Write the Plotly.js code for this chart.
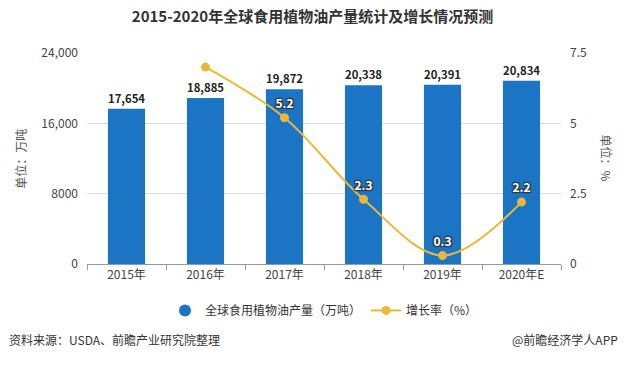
<!DOCTYPE html>
<html><head><meta charset="utf-8">
<script src="https://cdn.plot.ly/plotly-3.0.1.min.js"></script>
<style>body{margin:0;background:#fff}#c{width:625px;height:365px}</style>
</head><body><div id="c"></div>
<script>
const years = ['2015年','2016年','2017年','2018年','2019年','2020年E'];
const production = [17654, 18885, 19872, 20338, 20391, 20834];
const growth = [null, 7.0, 5.2, 2.3, 0.3, 2.2];
const growthLabels = ['', '', '5.2', '2.3', '0.3', '2.2'];
const prodLabels = ['17,654','18,885','19,872','20,338','20,391','20,834'];
const leftTicks = [0, 8000, 16000, 24000];
const leftTickText = ['0','8000','16,000','24,000'];
const rightTicks = [0, 2.5, 5, 7.5];
const rightTickText = ['0','2.5','5','7.5'];

const font = 'Microsoft YaHei, "Noto Sans CJK SC", sans-serif';
const barColor = '#1B75C4';
const lineColor = '#E9B83A';
const traces = [
  {type:'bar', x:years, y:production, name:'全球食用植物油产量（万吨）', showlegend:false,
   marker:{color:barColor}, width:0.47,
   text:prodLabels, textposition:'outside', cliponaxis:false,
   textfont:{family:font, size:12, color:'#222', weight:'bold'}},
  {type:'scatter', mode:'markers', x:[years[0]], y:[null], name:'全球食用植物油产量（万吨）',
   marker:{color:barColor, size:12, symbol:'circle'}, hoverinfo:'skip'},
  {type:'scatter', mode:'lines+markers+text', x:years, y:growth, yaxis:'y2',
   name:'增长率（%）', connectgaps:false,
   line:{color:lineColor, width:2, shape:'spline', smoothing:1},
   marker:{color:lineColor, size:9},
   text:growthLabels, textposition:'top center', cliponaxis:false,
   textfont:{family:font, size:12, color:'#fff', weight:'bold', shadow:'1px 1px 1px #333, -1px -1px 1px #333, 1px -1px 1px #333, -1px 1px 1px #333'}}
];
const layout = {
  width:625, height:365, margin:{l:87, r:64, t:53, b:101},
  paper_bgcolor:'#fff', plot_bgcolor:'#fff',
  font:{family:font, color:'#444'},
  title:{text:'<b>2015-2020年全球食用植物油产量统计及增长情况预测</b>', x:0.5, xanchor:'center', y:0.955, yanchor:'middle', font:{size:15, color:'#333', family:font}},
  bargap:0.5,
  xaxis:{tickfont:{size:12, color:'#444'}, ticks:'outside', ticklen:5, tickcolor:'#999', showline:true, linecolor:'#999', tickson:'boundaries', showgrid:false},
  yaxis:{range:[0,24000], tickvals:leftTicks, ticktext:leftTickText, tickfont:{size:12, color:'#444'}, gridcolor:'#dcdcdc', zeroline:false, ticks:'', ticklabelstandoff:8},
  yaxis2:{range:[0,7.5], overlaying:'y', side:'right', tickvals:rightTicks, ticktext:rightTickText, tickfont:{size:12, color:'#444'}, showgrid:false, zeroline:false, ticklabelstandoff:8},
  legend:{orientation:'h', x:0.5, xanchor:'center', y:-0.22, yanchor:'middle', font:{size:12, color:'#333'}, itemwidth:30},
  annotations:[
    {text:'单位：万吨', xref:'paper', yref:'paper', x:-0.141, xanchor:'center', y:0.5, showarrow:false, textangle:-90, font:{size:12, color:'#555'}},
    {text:'单位：%', xref:'paper', yref:'paper', x:1.097, xanchor:'center', y:0.5, showarrow:false, textangle:90, font:{size:12, color:'#555'}},
    {text:'资料来源：USDA、前瞻产业研究院整理', xref:'paper', yref:'paper', x:-0.169, xanchor:'left', y:-0.36, yanchor:'middle', showarrow:false, font:{size:12, color:'#333'}},
    {text:'@前瞻经济学人APP', xref:'paper', yref:'paper', x:1.124, xanchor:'right', y:-0.36, yanchor:'middle', showarrow:false, font:{size:12, color:'#333'}}
  ]
};
Plotly.newPlot('c', traces, layout, {displayModeBar:false});
</script></body></html>
